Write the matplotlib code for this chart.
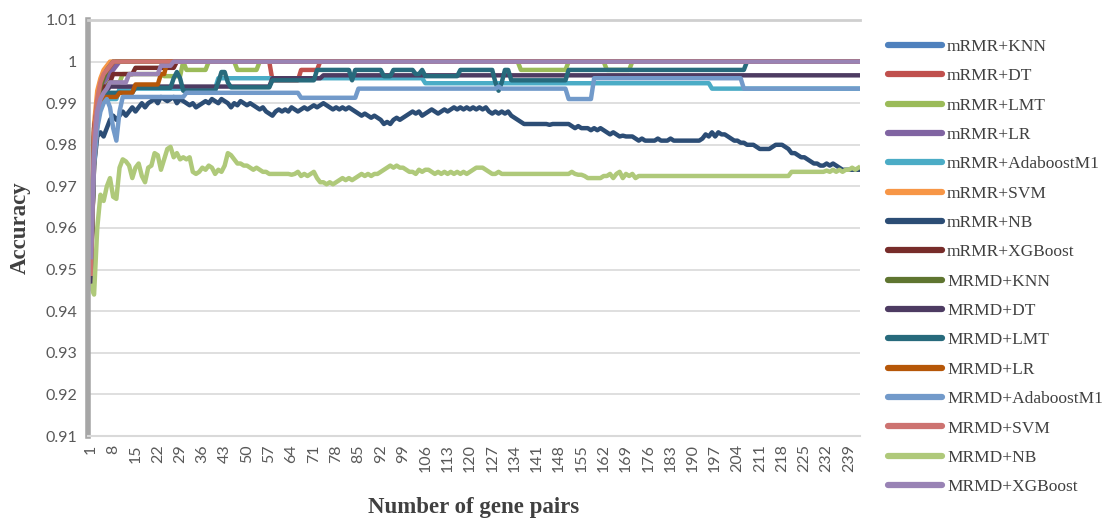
import numpy as np
import matplotlib
matplotlib.use("Agg")
import matplotlib.pyplot as plt

# ---------------- data ----------------
n_points = 242
x_labels = [str(i) for i in range(1, n_points + 1)]

def steps(head, runs):
    out = list(head)
    for v, c in runs:
        out += [v] * c
    return out

mrmr_knn = steps([0.950, 0.982, 0.990, 0.993, 0.995, 0.997, 0.998, 0.999], [(1.0, 234)])
mrmr_dt = steps([0.948, 0.983, 0.991, 0.994, 0.996, 0.997, 0.998, 0.999],
                [(1.0, 49), (0.9955, 9), (0.998, 6), (1.0, 170)])
mrmr_lmt = steps([0.950, 0.984, 0.990, 0.993],
                 [(0.995, 6), (0.997, 13), (0.9965, 6), (1.0, 1), (0.998, 7), (1.0, 9),
                  (0.998, 7), (1.0, 82), (0.998, 15), (1.0, 12), (0.998, 8), (1.0, 72)])
mrmr_lr = steps([0.952, 0.980, 0.990, 0.993, 0.995, 0.996, 0.997, 0.998, 0.999], [(1.0, 233)])
mrmr_ada = steps([0.951, 0.978, 0.986, 0.989],
                 [(0.991, 5), (0.9935, 31), (0.996, 65), (0.9948, 90), (0.9935, 47)])
mrmr_svm = steps([0.953, 0.985, 0.993, 0.996, 0.998, 0.999], [(1.0, 236)])
mrmr_nb = [
    0.952, 0.975, 0.982, 0.983, 0.982, 0.984, 0.986, 0.987, 0.986, 0.987,
    0.988, 0.987, 0.988, 0.989, 0.988, 0.989, 0.990, 0.989, 0.990, 0.9905,
    0.991, 0.990, 0.9915, 0.991, 0.9905, 0.991, 0.9915, 0.990, 0.991, 0.9905,
    0.990, 0.9895, 0.990, 0.989, 0.9895, 0.990, 0.9905, 0.990, 0.991, 0.9905,
    0.990, 0.991, 0.9905, 0.990, 0.989, 0.990, 0.9895, 0.9905, 0.990, 0.9895,
    0.990, 0.9895, 0.989, 0.9885, 0.989, 0.988, 0.9875, 0.987, 0.988, 0.9885,
    0.988, 0.9885, 0.988, 0.989, 0.9885, 0.988, 0.9885, 0.989, 0.9885, 0.989,
    0.9895, 0.989, 0.9895, 0.990, 0.9895, 0.989, 0.9885, 0.989, 0.9885, 0.989,
    0.9885, 0.989, 0.9885, 0.988, 0.9875, 0.987, 0.9875, 0.987, 0.9865, 0.987,
    0.9865, 0.986, 0.985, 0.9855, 0.985, 0.986, 0.9865, 0.986, 0.9865, 0.987,
    0.9875, 0.988, 0.9875, 0.988, 0.987, 0.9875, 0.988, 0.9885, 0.988, 0.9875,
    0.988, 0.9885, 0.988, 0.9885, 0.989, 0.9885, 0.989, 0.9885, 0.989, 0.9885,
    0.989, 0.9885, 0.989, 0.9885, 0.989, 0.988, 0.9875, 0.988, 0.9875, 0.988,
    0.9875, 0.988, 0.987, 0.9865, 0.986, 0.9855, 0.985, 0.985, 0.985, 0.985,
    0.985, 0.985, 0.985, 0.985, 0.9848, 0.985, 0.985, 0.985, 0.985, 0.985,
    0.985, 0.9845, 0.984, 0.9845, 0.984, 0.984, 0.984, 0.9835, 0.984, 0.9835,
    0.984, 0.9835, 0.983, 0.9825, 0.983, 0.9825, 0.982, 0.9822, 0.982, 0.982,
    0.982, 0.9815, 0.981, 0.9815, 0.981, 0.981, 0.981, 0.981, 0.9815, 0.981,
    0.981, 0.981, 0.9815, 0.981, 0.981, 0.981, 0.981, 0.981, 0.981, 0.981,
    0.981, 0.981, 0.9815, 0.9825, 0.982, 0.983, 0.982, 0.983, 0.9825, 0.9825,
    0.982, 0.9815, 0.981, 0.981, 0.9805, 0.9805, 0.980, 0.980, 0.980, 0.9795,
    0.979, 0.979, 0.979, 0.979, 0.9795, 0.980, 0.980, 0.980, 0.9795, 0.979,
    0.978, 0.978, 0.9775, 0.977, 0.977, 0.9765, 0.976, 0.9755, 0.9755, 0.975,
    0.975, 0.9755, 0.975, 0.9755, 0.975, 0.9745, 0.974, 0.974, 0.974, 0.974,
    0.974, 0.974,
]
mrmr_xgb = steps([0.946, 0.984, 0.989, 0.992, 0.994, 0.994, 0.995],
                 [(0.997, 7), (0.9985, 13), (1.0, 215)])
mrmd_knn = steps([0.948, 0.982, 0.990, 0.994, 0.996, 0.998, 0.999], [(1.0, 235)])
mrmd_dt = steps([0.947, 0.978, 0.987, 0.990, 0.992, 0.993],
                [(0.994, 51), (0.996, 16), (0.9967, 169)])
mrmd_lmt = steps([0.950, 0.976, 0.985, 0.989, 0.991],
                 [(0.9925, 9), (0.9937, 12), (0.996, 1), (0.9975, 1), (0.996, 1),
                  (0.993, 11), (0.995, 1), (0.9975, 2), (0.995, 1), (0.9938, 13),
                  (0.9955, 14), (0.998, 11), (0.9955, 1), (0.998, 9), (0.9965, 3),
                  (0.998, 7), (0.997, 2), (0.998, 1), (0.9965, 11), (0.998, 11),
                  (0.995, 1), (0.993, 1), (0.995, 1), (0.998, 2), (0.9955, 18),
                  (0.998, 56), (1.0, 36)])
mrmd_lr = steps([0.950, 0.975, 0.985, 0.990],
                [(0.9915, 5), (0.9925, 5), (0.9945, 8), (0.997, 2), (1.0, 218)])
mrmd_ada = steps([0.952, 0.975, 0.984, 0.988, 0.990, 0.991, 0.989, 0.984, 0.981, 0.988],
                 [(0.9915, 20), (0.9925, 36), (0.9913, 18), (0.9935, 44), (0.994, 1),
                  (0.9935, 21), (0.991, 8), (0.996, 47), (0.9935, 37)])
mrmd_svm = steps([0.949, 0.983, 0.991, 0.995, 0.997, 0.998, 0.999], [(1.0, 235)])
mrmd_nb = [
    0.946, 0.944, 0.960, 0.968, 0.9665, 0.970, 0.972, 0.9675, 0.967, 0.9745,
    0.9765, 0.976, 0.975, 0.972, 0.9745, 0.9755, 0.9725, 0.971, 0.9745, 0.975,
    0.978, 0.9775, 0.974, 0.9765, 0.979, 0.9795, 0.977, 0.978, 0.9765, 0.977,
    0.9765, 0.977, 0.9735, 0.973, 0.9735, 0.9745, 0.974, 0.975, 0.9745, 0.973,
    0.974, 0.9735, 0.975, 0.978, 0.9775, 0.9765, 0.9755, 0.9755, 0.975, 0.975,
    0.9745, 0.974, 0.9745, 0.974, 0.9735, 0.9735, 0.973, 0.973, 0.973, 0.973,
    0.973, 0.973, 0.973, 0.9728, 0.973, 0.9735, 0.9725, 0.973, 0.9725, 0.973,
    0.9735, 0.972, 0.971, 0.971, 0.9705, 0.971, 0.9705, 0.971, 0.9715, 0.972,
    0.9715, 0.972, 0.9715, 0.972, 0.9725, 0.973, 0.9725, 0.973, 0.9725, 0.973,
    0.973, 0.9735, 0.974, 0.9745, 0.975, 0.9745, 0.975, 0.9745, 0.9745, 0.974,
    0.9735, 0.9735, 0.973, 0.974, 0.9735, 0.974, 0.974, 0.9735, 0.973, 0.9735,
    0.973, 0.9735, 0.973, 0.9735, 0.973, 0.9735, 0.973, 0.9735, 0.973, 0.9735,
    0.974, 0.9745, 0.9745, 0.9745, 0.974, 0.9735, 0.973, 0.973, 0.9735, 0.973,
    0.973, 0.973, 0.973, 0.973, 0.973, 0.973, 0.973, 0.973, 0.973, 0.973,
    0.973, 0.973, 0.973, 0.973, 0.973, 0.973, 0.973, 0.973, 0.973, 0.973,
    0.973, 0.9735, 0.973, 0.9728, 0.9728, 0.9725, 0.972, 0.972, 0.972, 0.972,
    0.972, 0.9725, 0.9725, 0.973, 0.972, 0.973, 0.9735, 0.972, 0.973, 0.9725,
    0.973, 0.972, 0.9725, 0.9725, 0.9725, 0.9725, 0.9725, 0.9725, 0.9725, 0.9725,
    0.9725, 0.9725, 0.9725, 0.9725, 0.9725, 0.9725, 0.9725, 0.9725, 0.9725, 0.9725,
    0.9725, 0.9725, 0.9725, 0.9725, 0.9725, 0.9725, 0.9725, 0.9725, 0.9725, 0.9725,
    0.9725, 0.9725, 0.9725, 0.9725, 0.9725, 0.9725, 0.9725, 0.9725, 0.9725, 0.9725,
    0.9725, 0.9725, 0.9725, 0.9725, 0.9725, 0.9725, 0.9725, 0.9725, 0.9725, 0.9725,
    0.9735, 0.9735, 0.9735, 0.9735, 0.9735, 0.9735, 0.9735, 0.9735, 0.9735, 0.9735,
    0.9735, 0.9738, 0.9735, 0.974, 0.9735, 0.974, 0.9735, 0.974, 0.974, 0.9745,
    0.974, 0.9745,
]
mrmd_xgb = steps([0.953, 0.978, 0.988, 0.991, 0.9925, 0.9935],
                 [(0.995, 6), (0.997, 10), (0.999, 4), (1.0, 216)])

series_names = ["mRMR+KNN", "mRMR+DT", "mRMR+LMT", "mRMR+LR", "mRMR+AdaboostM1",
                "mRMR+SVM", "mRMR+NB", "mRMR+XGBoost", "MRMD+KNN", "MRMD+DT",
                "MRMD+LMT", "MRMD+LR", "MRMD+AdaboostM1", "MRMD+SVM", "MRMD+NB",
                "MRMD+XGBoost"]
series_values = [mrmr_knn, mrmr_dt, mrmr_lmt, mrmr_lr, mrmr_ada, mrmr_svm, mrmr_nb,
                 mrmr_xgb, mrmd_knn, mrmd_dt, mrmd_lmt, mrmd_lr, mrmd_ada, mrmd_svm,
                 mrmd_nb, mrmd_xgb]
y_ticks = [0.91, 0.92, 0.93, 0.94, 0.95, 0.96, 0.97, 0.98, 0.99, 1.00, 1.01]
y_tick_labels = ["0.91", "0.92", "0.93", "0.94", "0.95", "0.96", "0.97", "0.98",
                 "0.99", "1", "1.01"]

colors = ["#4F81BD", "#C0504D", "#9BBB59", "#8064A2", "#4BACC6", "#F79646",
          "#2C4D75", "#772C2A", "#5F7530", "#4D3B62", "#276A7C", "#B65708",
          "#729ACA", "#CD7371", "#AFC97A", "#9983B5"]

# ---------------- plot ----------------
fig = plt.figure(figsize=(11.17, 5.18), dpi=100)
ax = fig.add_axes([0.0788, 0.1583, 0.770 - 0.0788, 0.9614 - 0.1583])

xpos = np.arange(n_points)
for name, vals, c in zip(series_names, series_values, colors):
    assert len(vals) == n_points, (name, len(vals))
    ax.plot(xpos, vals, color=c, lw=3.2, label=name, solid_joinstyle="round")

ax.set_xlim(-0.9, 241.5)
ax.set_ylim(0.91, 1.01)
ax.set_yticks(y_ticks)
ax.set_yticklabels(y_tick_labels)
ax.set_xticks(xpos[::7])
ax.set_xticklabels(x_labels[::7], rotation=90)
ax.tick_params(axis="y", length=0, labelsize=11.5, labelcolor="#595959", pad=8)
ax.tick_params(axis="x", length=0, labelsize=11.5, labelcolor="#595959", pad=6)
for lab in ax.get_xticklabels() + ax.get_yticklabels():
    lab.set_family("Lato")

ax.grid(axis="y", color="#D9D9D9", lw=1.2)
ax.set_axisbelow(True)
ax.spines["right"].set_visible(False)
ax.spines["left"].set_color("#A6A6A6")
ax.spines["left"].set_linewidth(4)
ax.spines["top"].set_color("#CFCFCF")
ax.spines["top"].set_linewidth(2)
ax.spines["bottom"].set_color("#D9D9D9")
ax.spines["bottom"].set_linewidth(1.5)

ax.set_xlabel("Number of gene pairs", family="Liberation Serif", fontweight="bold",
              fontsize=16.5, color="#404040", labelpad=18)
ax.set_ylabel("Accuracy", family="Liberation Serif", fontweight="bold",
              fontsize=16.5, color="#404040", labelpad=10)

leg = fig.legend(loc="upper left", bbox_to_anchor=(0.795, 0.925), frameon=False,
                 prop={"family": "Liberation Serif", "size": 12.5},
                 handlelength=3.1, handletextpad=0.3, labelspacing=0.76,
                 borderpad=0, borderaxespad=0)
for t in leg.get_texts():
    t.set_color("#404040")
for h in leg.legend_handles:
    h.set_linewidth(4.5)
    h.set_solid_capstyle("round")

fig.savefig("out.png", dpi=100)
